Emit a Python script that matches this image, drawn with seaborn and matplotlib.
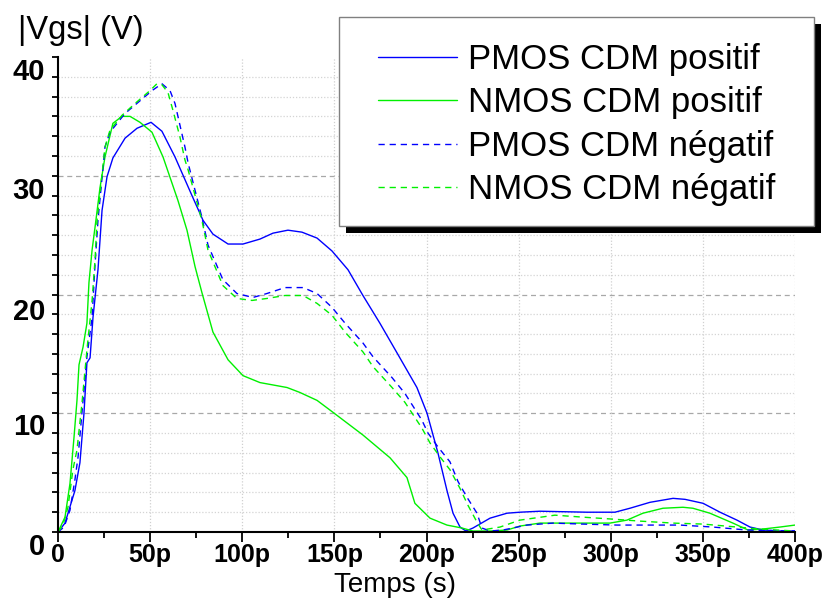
import matplotlib
matplotlib.use("Agg")
import matplotlib.pyplot as plt
import seaborn as sns
import pandas as pd
from matplotlib.patches import Rectangle
from matplotlib.transforms import IdentityTransform

# temps en ps, |Vgs| en unites de l'axe
t_pmos_pos = [0, 3.8, 9.2, 11.9, 14.1, 15.7, 17.4, 19.0, 21.7, 23.9, 26.6, 29.8, 36.4, 42.9, 50.5,
              56.4, 63.5, 72.7, 78.7, 84.1, 92.3, 100.4, 109.6, 116.7, 124.8, 132.4, 140.6, 148.7,
              157.4, 165.5, 174.7, 184.0, 194.8, 200.3, 206.2, 211.1, 214.4, 218.2, 221.4, 225.2,
              234.5, 243.7, 250.7, 261.6, 287.1, 302.3, 310.4, 321.3, 333.8, 340.3, 350.1, 359.3,
              368.5, 375.6, 382.6, 391.8, 400]
v_pmos_pos = [0, 0.9, 4.2, 7.0, 12.0, 17.1, 17.6, 21.7, 26.5, 32.5, 35.9, 37.8, 39.8, 40.8, 41.4,
              40.5, 37.9, 34.0, 31.5, 30.1, 29.1, 29.1, 29.6, 30.2, 30.5, 30.3, 29.7, 28.4,
              26.5, 23.9, 21.1, 18.1, 14.6, 12.0, 8.0, 4.2, 1.9, 0.5, 0.1, 0.4,
              1.4, 1.9, 2.0, 2.1, 2.0, 2.0, 2.4, 3.0, 3.4, 3.3, 2.9, 2.0,
              1.2, 0.5, 0.2, 0.1, 0.1]

t_nmos_pos = [0, 3.8, 6.5, 8.7, 10.3, 11.4, 13.6, 15.7, 16.8, 18.5, 20.1, 22.8, 25.5, 29.8, 34.7,
              39.1, 44.5, 51.0, 57.0, 65.1, 70.0, 74.4, 78.1, 84.1, 92.3, 100.4, 109.6, 124.3,
              131.3, 140.6, 149.2, 165.5, 180.2, 189.4, 193.7, 201.9, 211.1, 219.3, 225.2, 234.5,
              243.7, 250.7, 261.6, 287.1, 299.6, 308.8, 317.5, 328.3, 339.2, 344.6, 353.8, 366.3,
              374.5, 382.6, 391.8, 400]
v_nmos_pos = [0, 1.5, 4.9, 9.6, 13.3, 16.9, 18.7, 21.1, 25.2, 28.5, 30.8, 34.8, 37.9, 41.3, 42.0,
              42.0, 41.4, 40.4, 37.9, 33.5, 30.5, 26.8, 24.2, 20.2, 17.4, 15.8, 15.1, 14.6,
              14.1, 13.3, 12.1, 9.8, 7.5, 5.5, 2.9, 1.4, 0.7, 0.4, 0.1, 0.1,
              0.2, 0.6, 0.9, 0.9, 0.9, 1.2, 1.9, 2.4, 2.5, 2.4, 1.9, 0.9,
              0.2, 0.3, 0.5, 0.7]

t_pmos_neg = [0, 3.3, 6.5, 9.2, 10.9, 13.6, 15.7, 18.5, 20.1, 21.7, 25.5, 28.2, 36.4, 43.4, 51.0,
              56.4, 60.8, 63.5, 66.2, 68.9, 70.6, 78.1, 81.4, 89.5, 97.1, 105.8, 113.4, 123.2,
              133.0, 140.6, 148.7, 155.8, 165.5, 171.0, 181.3, 188.3, 197.5, 200.8, 206.2, 212.7,
              217.1, 222.0, 227.4, 230.1, 234.5, 241.5, 254.5, 268.6, 284.9, 303.4, 321.3, 337.6,
              355.5, 373.9, 400]
v_pmos_neg = [0, 0.5, 2.2, 5.3, 7.6, 13.3, 17.7, 21.7, 27.0, 31.5, 38.9, 40.4, 42.3, 43.4, 44.6,
              45.3, 44.6, 43.3, 41.1, 38.9, 37.3, 31.8, 29.0, 25.5, 24.1, 23.7, 24.1, 24.7,
              24.7, 24.1, 22.7, 21.1, 19.1, 17.7, 15.6, 14.0, 11.3, 10.0, 8.6, 7.1,
              5.1, 3.5, 1.9, 0.4, 0.1, 0.2, 0.7, 0.9, 0.8, 0.7, 0.7, 0.7,
              0.5, 0.2, 0.1]

t_nmos_neg = [0, 2.7, 5.4, 8.1, 10.3, 13.0, 15.7, 18.5, 20.1, 21.2, 25.5, 28.2, 34.7, 41.8, 49.9,
              53.7, 56.4, 59.7, 62.4, 66.2, 68.9, 70.6, 78.1, 81.4, 89.5, 97.1, 105.3, 113.4,
              123.2, 133.0, 140.6, 148.7, 155.8, 165.5, 171.0, 181.3, 188.3, 197.5, 201.9, 207.3,
              212.7, 218.2, 222.5, 227.4, 230.1, 239.9, 250.7, 269.7, 284.9, 301.2, 315.9, 333.8,
              350.1, 368.5, 381.0, 400]
v_nmos_neg = [0, 0.7, 2.5, 6.3, 8.3, 13.0, 18.4, 23.4, 27.5, 31.5, 38.9, 40.6, 42.1, 43.3, 44.6,
              45.3, 45.2, 44.4, 42.6, 39.9, 37.6, 36.6, 31.5, 28.5, 24.9, 23.6, 23.4, 23.6,
              23.9, 23.9, 23.1, 21.9, 20.2, 18.2, 16.7, 14.6, 13.1, 10.5, 9.0, 7.6,
              6.3, 4.4, 2.7, 1.0, 0.2, 0.5, 1.2, 1.7, 1.5, 1.3, 1.1, 0.9,
              0.8, 0.5, 0.3, 0.1]

labels = ["PMOS CDM positif", "NMOS CDM positif", "PMOS CDM négatif", "NMOS CDM négatif"]
colors = ["#0000FF", "#00F000", "#0000FF", "#00F000"]
styles = ["-", "-", "--", "--"]

x_ticks = [0, 50, 100, 150, 200, 250, 300, 350, 400]
x_ticklabels = ["0", "50p", "100p", "150p", "200p", "250p", "300p", "350p", "400p"]
y_labels = ["0", "10", "20", "30", "40"]
y_label_pos = [-1.5, 10.6, 22.2, 34.5, 46.5]

W, H = 827, 599


def main():
    sns.set_theme(style="white")
    plt.rcParams["font.family"] = ["Liberation Sans", "DejaVu Sans"]
    for key in ["text.color", "axes.labelcolor", "xtick.color", "ytick.color"]:
        plt.rcParams[key] = "black"

    fig = plt.figure(figsize=(W / 100, H / 100), dpi=100)
    ax = fig.add_axes([58 / W, 1 - 532 / H, 737 / W, 475 / H])

    series = [(t_pmos_pos, v_pmos_pos), (t_nmos_pos, v_nmos_pos),
              (t_pmos_neg, v_pmos_neg), (t_nmos_neg, v_nmos_neg)]
    for (t, v), lab, col, ls in zip(series, labels, colors, styles):
        df = pd.DataFrame({"t": t, "v": v})
        line = sns.lineplot(data=df, x="t", y="v", ax=ax, color=col, linewidth=1.0,
                            label=lab, sort=False, estimator=None).lines[-1]
        if ls == "--":
            line.set_dashes((4.5, 3.5))

    # grille
    for yv in range(2, 47, 2):
        if yv % 12 == 0:
            ax.axhline(yv, color="#a8a8a8", lw=0.9, ls=(0, (4, 3)), zorder=0)
        else:
            ax.axhline(yv, color="#d4d4d4", lw=0.9, ls=(0, (1, 1.5)), zorder=0)
    for xv in x_ticks[1:]:
        ax.axvline(xv, color="#d0d0d0", lw=0.9, ls=(0, (1, 1.5)), zorder=0)

    ax.set_xlim(0, 400)
    ax.set_ylim(0, 48)
    ax.set_xticks(x_ticks)
    ax.set_xticklabels(x_ticklabels, fontsize=18, fontweight="bold")
    ax.set_xticks(range(25, 400, 50), minor=True)
    ax.set_yticks(range(0, 49, 2))
    ax.set_yticklabels([])
    ax.tick_params(axis="x", which="major", direction="out", length=7, width=1.3, pad=1, bottom=True)
    ax.tick_params(axis="x", which="minor", direction="out", length=4, width=1.3, bottom=True)
    ax.tick_params(axis="y", direction="out", length=4.5, width=1.3, left=True)
    for side in ["top", "right"]:
        ax.spines[side].set_visible(False)
    for side in ["left", "bottom"]:
        ax.spines[side].set_color("black")
        ax.spines[side].set_linewidth(1.5)
    ax.set_xlabel("")
    ax.set_ylabel("")

    for lab, yv in zip(y_labels, y_label_pos):
        ax.text(-0.0176, yv, lab, transform=ax.get_yaxis_transform(), ha="right", va="center",
                fontsize=21, fontweight="bold", clip_on=False)

    fig.text(395 / W, 1 - 585 / H, "Temps (s)", ha="center", va="center", fontsize=20)
    fig.text(18 / W, 1 - 30 / H, "|Vgs| (V)", ha="left", va="center", fontsize=23.5)

    # cadre de legende avec ombre portee noire
    box_x0, box_y0, box_x1, box_y1 = 339, 17, 814, 226
    shadow = Rectangle((box_x0 + 7, H - box_y1 - 7), box_x1 - box_x0, box_y1 - box_y0,
                       transform=IdentityTransform(), facecolor="black", edgecolor="none",
                       zorder=5.5, clip_on=False)
    frame = Rectangle((box_x0, H - box_y1), box_x1 - box_x0, box_y1 - box_y0,
                      transform=IdentityTransform(), facecolor="white", edgecolor="#808080",
                      linewidth=1.0, zorder=5.6, clip_on=False)
    ax.add_patch(shadow)
    ax.add_patch(frame)

    leg = ax.legend(loc="upper left", bbox_to_anchor=(378 / W, 1 - 43 / H),
                    bbox_transform=fig.transFigure, borderaxespad=0, borderpad=0, fontsize=25,
                    handlelength=2.28, handletextpad=0.3, labelspacing=0.3, frameon=False,
                    labelcolor="black")
    leg.set_zorder(6)

    fig.savefig("out.png", dpi=100)
    plt.close(fig)


if __name__ == "__main__":
    main()
